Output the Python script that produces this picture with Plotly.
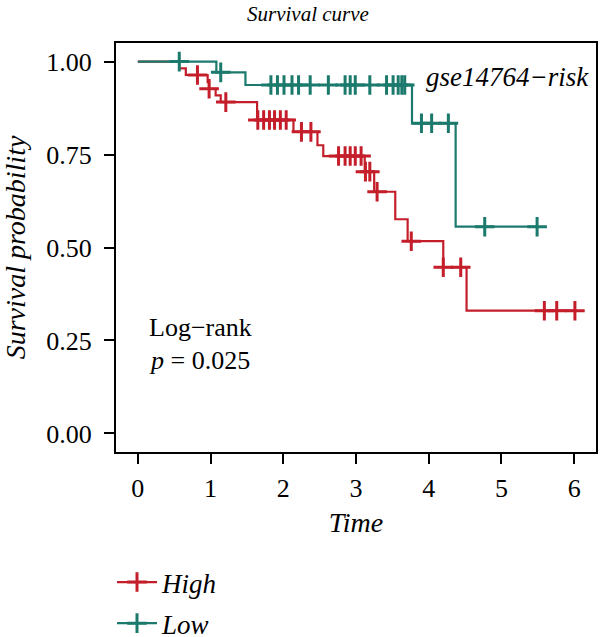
import plotly.graph_objects as go

# ---- data ----
high_event_time = [0.57, 0.66, 0.96, 0.98, 1.07, 1.14, 1.64, 2.14, 2.47, 2.55, 3.12, 3.25, 3.54, 3.71, 4.20, 4.52]
high_event_surv = [0.982, 0.964, 0.945, 0.927, 0.909, 0.891, 0.843, 0.811, 0.775, 0.746, 0.704, 0.650, 0.576, 0.517, 0.447, 0.330]
high_censor_time = [0.82, 0.98, 1.21, 1.65, 1.73, 1.81, 1.88, 1.96, 2.04, 2.25, 2.38, 2.76, 2.85, 2.92, 2.99,
                    3.07, 3.13, 3.19, 3.29, 3.76, 4.20, 4.44, 5.59, 5.76, 6.01]
high_end_time = 6.01

low_event_time = [1.08, 1.48, 3.77, 4.37]
low_event_surv = [0.971, 0.937, 0.834, 0.556]
low_censor_time = [0.57, 1.14, 1.83, 1.92, 2.01, 2.12, 2.21, 2.37, 2.62, 2.85, 2.92, 2.99, 3.19, 3.42,
                   3.51, 3.58, 3.63, 3.67, 3.90, 4.04, 4.27, 4.77, 5.49]
low_end_time = 5.49

x_ticks = [0, 1, 2, 3, 4, 5, 6]
y_ticks = [0.00, 0.25, 0.50, 0.75, 1.00]
y_ticklabels = ["0.00", "0.25", "0.50", "0.75", "1.00"]

RED = "#C41E2A"
TEAL = "#1B7A6C"
FONT = "Liberation Serif"

W, H = 600, 637
ML, MR, MT, MB = 116, 4, 43, 185
PW, PH = W - ML - MR, H - MT - MB


def step_xy(times, surv, end):
    xs = [0] + list(times) + [end]
    ys = [1.0] + list(surv) + [surv[-1]]
    return xs, ys


def surv_at(t, times, surv):
    s = 1.0
    for tt, ss in zip(times, surv):
        if tt <= t:
            s = ss
    return s


fig = go.Figure()

groups = [
    ("High", high_event_time, high_event_surv, high_censor_time, high_end_time, RED),
    ("Low", low_event_time, low_event_surv, low_censor_time, low_end_time, TEAL),
]

for name, et, es, ct, end, col in groups:
    xs, ys = step_xy(et, es, end)
    fig.add_trace(go.Scatter(x=xs, y=ys, mode="lines", line=dict(color=col, width=2.2, shape="hv"),
                             showlegend=False, hoverinfo="skip"))
    fig.add_trace(go.Scatter(x=ct, y=[surv_at(t, et, es) for t in ct], mode="markers",
                             marker=dict(symbol="cross-thin", size=14, color=col,
                                         line=dict(color=col, width=3)),
                             showlegend=False, hoverinfo="skip"))

for name, et, es, ct, end, col in groups:
    fig.add_trace(go.Scatter(x=[None], y=[None], mode="lines+markers", name=f"<i>{name}</i>",
                             legendgroup=name,
                             line=dict(color=col, width=2.2),
                             marker=dict(symbol="cross-thin", size=14, color=col,
                                         line=dict(color=col, width=3))))

fig.add_annotation(x=3.93, y=0.958, xref="x", yref="y", text="<i>gse14764−risk</i>", showarrow=False,
                   xanchor="left", yanchor="middle", font=dict(family=FONT, size=27, color="black"))
fig.add_annotation(x=0.13, y=0.286, xref="x", yref="y", text="Log−rank", showarrow=False,
                   xanchor="left", yanchor="middle", font=dict(family=FONT, size=26, color="black"))
fig.add_annotation(x=0.13, y=0.197, xref="x", yref="y", text="<i>p</i> = 0.025", showarrow=False,
                   xanchor="left", yanchor="middle", font=dict(family=FONT, size=26, color="black"))
fig.add_annotation(x=(308 - ML) / PW, y=1 + (MT - 14) / PH, xref="paper", yref="paper",
                   text="<i>Survival curve</i>", showarrow=False, xanchor="center", yanchor="middle",
                   font=dict(family=FONT, size=21, color="black"))

fig.update_layout(
    width=W, height=H,
    margin=dict(l=ML, r=MR, t=MT, b=MB, autoexpand=False),
    paper_bgcolor="white", plot_bgcolor="white",
    font=dict(family=FONT, color="black"),
    showlegend=True,
    legend=dict(x=(112 - ML) / PW, y=-(558 - (MT + PH)) / PH, xanchor="left", yanchor="top",
                traceorder="grouped", tracegroupgap=3, itemwidth=40,
                font=dict(family=FONT, size=27, color="black"),
                bgcolor="rgba(0,0,0,0)"),
)

fig.update_xaxes(range=[-0.3, 6.3], tickvals=x_ticks, ticktext=[str(v) for v in x_ticks],
                 showline=True, mirror=True, linecolor="black", linewidth=2,
                 ticks="outside", ticklen=10, tickwidth=2, tickcolor="black", ticklabelstandoff=2,
                 showgrid=False, zeroline=False, tickfont=dict(family=FONT, size=26, color="black"),
                 title=dict(text="<i>Time</i>", font=dict(family=FONT, size=28, color="black"), standoff=10))
fig.update_yaxes(range=[-0.05, 1.05], tickvals=y_ticks, ticktext=y_ticklabels,
                 showline=True, mirror=True, linecolor="black", linewidth=2,
                 ticks="outside", ticklen=10, tickwidth=2, tickcolor="black", ticklabelstandoff=7,
                 showgrid=False, zeroline=False, tickfont=dict(family=FONT, size=26, color="black"),
                 title=dict(text="<i>Survival probability</i>", font=dict(family=FONT, size=28, color="black"),
                            standoff=14))

fig.write_html("out.html")
